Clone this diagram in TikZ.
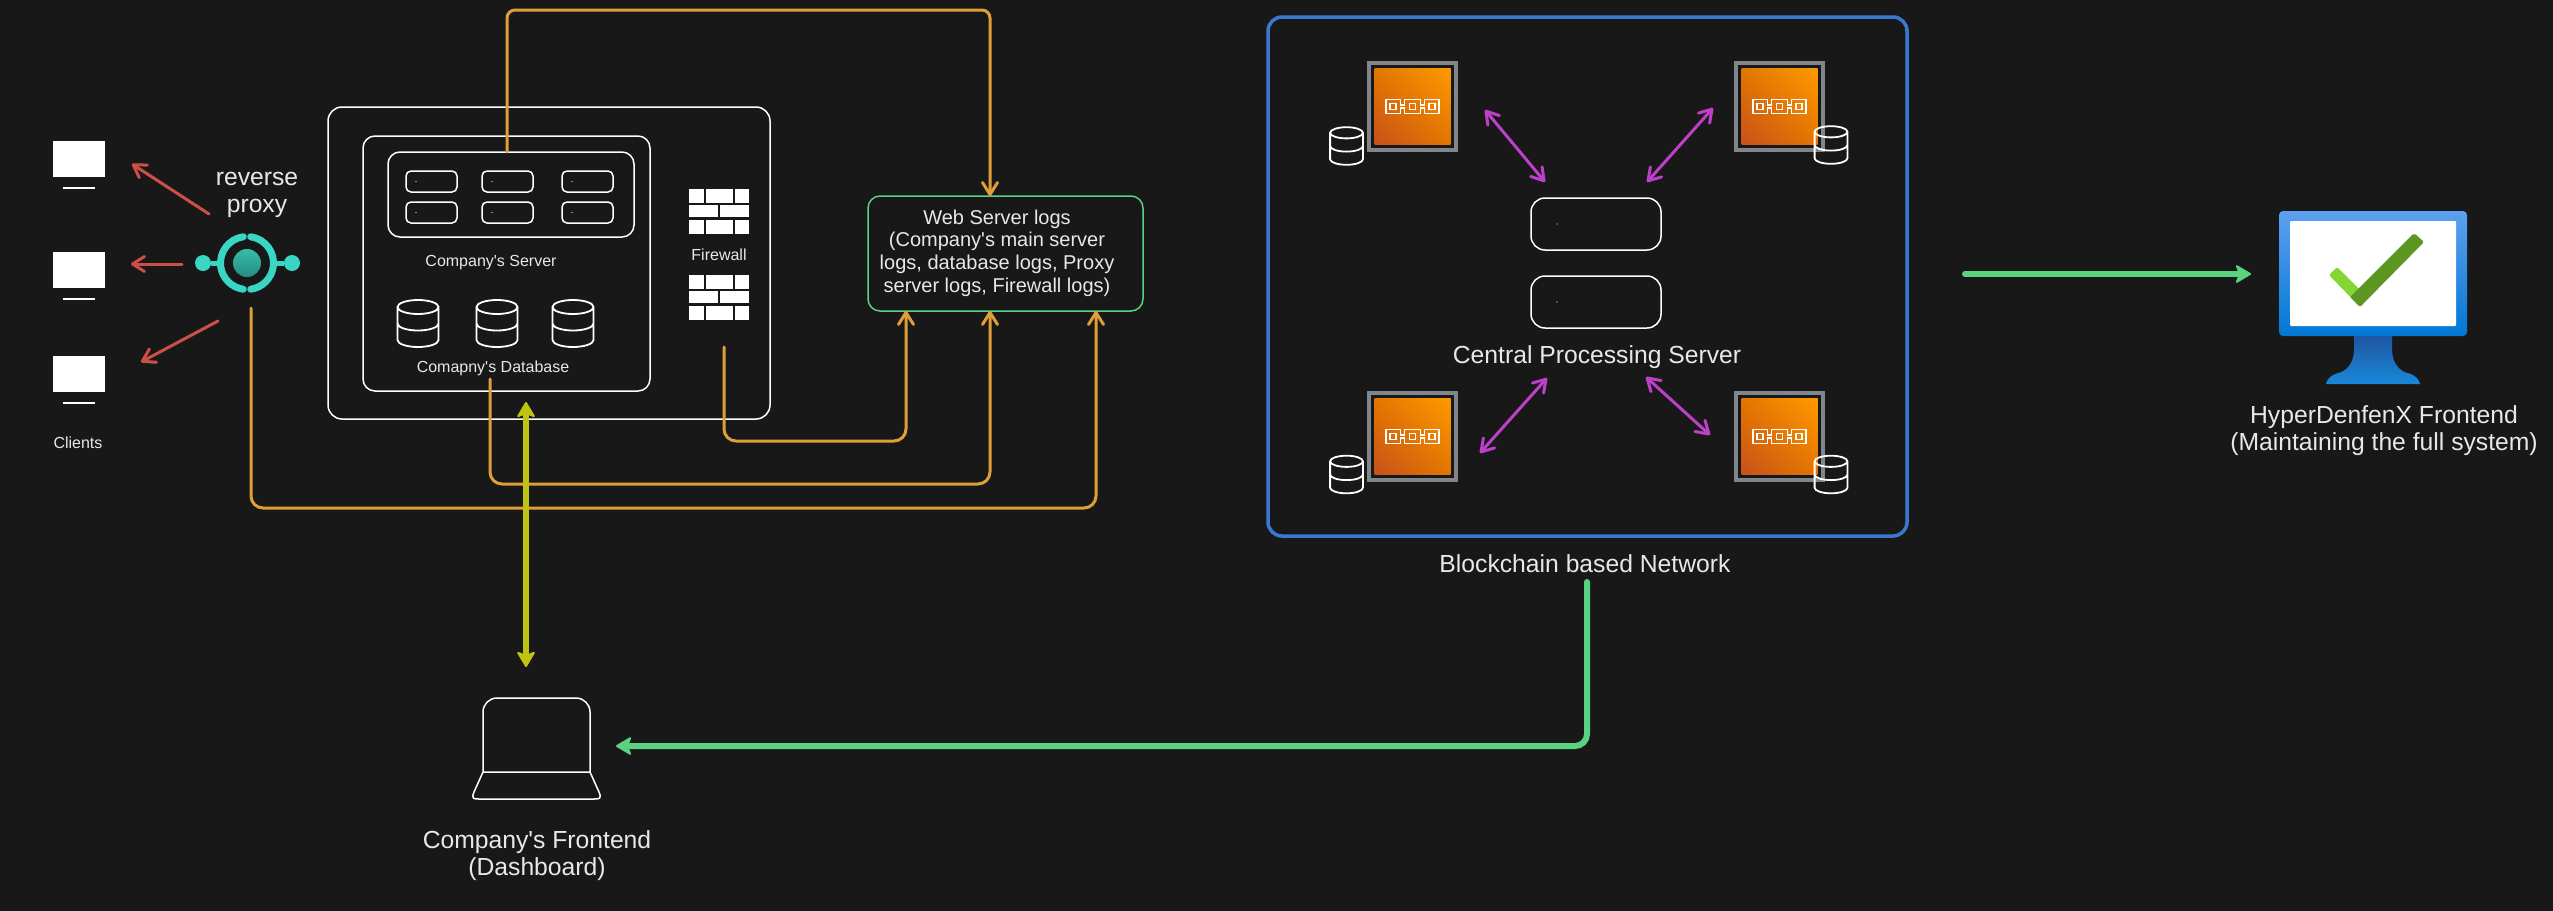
\documentclass[tikz,border=0pt]{standalone}
\usepackage{fontspec}
\setmainfont{Liberation Sans}[Ligatures=TeXOff]
\usetikzlibrary{arrows.meta,shadings}
\definecolor{bgdark}{HTML}{181818}
\definecolor{labelgray}{HTML}{E8E8E8}
\definecolor{redline}{HTML}{CC5048}
\definecolor{orangeline}{HTML}{E09E38}
\definecolor{greenline}{HTML}{5BD27F}
\definecolor{yellowline}{HTML}{BFC413}
\definecolor{purpleline}{HTML}{BE3FC8}
\definecolor{blueframe}{HTML}{3D78D0}
\definecolor{tealicon}{HTML}{3AD6C4}
\definecolor{tealtop}{HTML}{36BCAA}
\definecolor{tealbottom}{HTML}{258C80}
\definecolor{greyframe}{HTML}{7F878D}
\definecolor{chainlow}{HTML}{C7511B}
\definecolor{chainmid}{HTML}{E37600}
\definecolor{chainhigh}{HTML}{FF9900}
\definecolor{screentop}{HTML}{5EA0EF}
\definecolor{screenlow}{HTML}{0078D4}
\definecolor{standtop}{HTML}{1F56A3}
\definecolor{standlow}{HTML}{1988D9}
\definecolor{checklight}{HTML}{86D633}
\definecolor{checkdark}{HTML}{5E9624}
\tikzset{
  every node/.style={text=labelgray,align=center,inner sep=0},
  smalltext/.style={font=\fontsize{16}{19}\selectfont},
  midtext/.style={font=\fontsize{20}{22.7}\selectfont},
  bigtext/.style={font=\fontsize{24.7}{27}\selectfont},
  sketchbox/.style={draw=white,line width=1.5pt,rounded corners=#1},
  sketchbox/.default=12pt,
  barbline/.style={line width=3pt,line cap=round,line join=round,>={Straight Barb[length=12pt,width=15pt,round]}},
  thickline/.style={line width=6pt,line cap=round,>={Stealth[round,length=17pt,width=20pt,inset=4pt,line width=2pt]}},
  dbstack/.pic={
    \draw[white,line width=1.8pt] (0,-16.5) ellipse [x radius=20.5pt,y radius=7pt]
      (-20.5,-16.5) -- (-20.5,16.5) arc[start angle=180,end angle=360,x radius=20.5pt,y radius=7pt] -- (20.5,-16.5)
      (-20.5,0) arc[start angle=180,end angle=360,x radius=20.5pt,y radius=7pt];
  },
  firewallicon/.pic={
    \foreach \ya/\yb in {0/14,31/45}
      \foreach \xa/\xb in {0/15,17/44,46/60}
        \fill[white] (\xa,\ya) rectangle (\xb,\yb);
    \foreach \xa/\xb in {0/29,31/60}
      \fill[white] (\xa,16) rectangle (\xb,28);
  },
  chainlink/.pic={
    \shade[shading=bilinear interpolation,lower left=chainlow,upper right=chainhigh,upper left=chainmid,lower right=chainmid] (-38,-38) rectangle (38,38);
    \draw[greyframe,line width=4pt] (-43.5,-43.5) rectangle (43.5,43.5);
    \draw[white,line width=1.4pt] (-26.5,-7) -- (-12,-7) -- (-12,-1.5) -- (-8,-1.5) -- (-8,-7) -- (8,-7) -- (8,-1.5) -- (12,-1.5) -- (12,-7) -- (26.5,-7)
      -- (26.5,7) -- (12,7) -- (12,1.5) -- (8,1.5) -- (8,7) -- (-8,7) -- (-8,1.5) -- (-12,1.5) -- (-12,7) -- (-26.5,7) -- cycle;
    \foreach \xa in {-19.5,0,19.5}
      \draw[white,line width=1.2pt] ({\xa-3},-3) rectangle ({\xa+3},3);
  },
  clientscreen/.pic={
    \fill[white] (-26,-18) rectangle (26,18);
    \draw[white,line width=1.2pt] (-16,29) -- (16,29);
  }
}

\begin{document}
\begin{tikzpicture}[x=1pt,y=-1pt]
        \useasboundingbox (0,0) rectangle (2553,910);
        \fill[bgdark] (-3,-3) rectangle (2556,913);

        \foreach \n/\cy in {a/159,b/270,c/374}
          \pic (client\n) at (79,\cy) {clientscreen};
        \node[smalltext] (clients) at (78,443) {Clients};
        \node[bigtext] (proxylabel) at (257,195) {reverse\\proxy};

        \draw[tealicon,line width=7pt,line cap=round] (247,263) ++(98:26.5pt) arc[start angle=98,end angle=262,radius=26.5pt];
        \draw[tealicon,line width=7pt,line cap=round] (247,263) ++(82:26.5pt) arc[start angle=82,end angle=-82,radius=26.5pt];
        \node[circle,top color=tealtop,bottom color=tealbottom,minimum size=28pt] (proxy) at (247,263) {};
        \node[circle,fill=tealicon,minimum size=16pt] (proxyl) at (203,263) {};
        \node[circle,fill=tealicon,minimum size=16pt] (proxyr) at (292,263) {};
        \draw[tealicon,line width=5pt] (proxyl) -- (221,263) (proxyr) -- (273,263);

        \coordinate (pxa) at (209,214);
        \coordinate (pxb) at (182,264);
        \coordinate (pxc) at (218,321);
        \coordinate (cla) at (132,164);
        \coordinate (clb) at (131,264);
        \coordinate (clc) at (141,362);
        \draw[barbline,redline,->] (pxa) -- (cla);
        \draw[barbline,redline,->] (pxb) -- (clb);
        \draw[barbline,redline,->] (pxc) -- (clc);

        \node[sketchbox=14pt,minimum width=442pt,minimum height=312pt] (outerbox) at (549,263) {};
        \node[sketchbox=12pt,minimum width=287pt,minimum height=255pt] (innerbox) at (506.5,263.5) {};
        \node[sketchbox=12pt,minimum width=246pt,minimum height=85pt] (srvbox) at (511,194.5) {};
        \foreach \cx in {431.5,507.5,587.5}
          \foreach \cy in {181.5,212.5} {
            \node[sketchbox=5pt,minimum width=51pt,minimum height=21pt] (srv\cx\cy) at (\cx,\cy) {};
            \fill[white] ({\cx-15.5},\cy) circle (0.7pt);
          }
        \node[smalltext] (srvlabel) at (491,263) {Company's Server};
        \foreach \n/\cx in {a/418,b/497,c/573}
          \pic (db\n) at (\cx,323.5) {dbstack};
        \node[smalltext] (dblabel) at (493,368) {Comapny's Database};
        \pic (fwa) at (689,189) {firewallicon};
        \pic (fwb) at (689,275) {firewallicon};
        \node[smalltext] (fwlabel) at (719,255) {Firewall};

        \node[draw=greenline,line width=1.5pt,rounded corners=12pt,minimum width=275pt,minimum height=115pt] (logs) at (1005.5,253.5) {};
        \node[midtext] (logstext) at (997,253) {Web Server logs\\(Company's main server\\logs, database logs, Proxy\\server logs, Firewall logs)};

        \coordinate (srvout) at (507,152);
        \coordinate (topbend) at (990,10);
        \coordinate (logstop) at (990,196);
        \draw[barbline,orangeline,->,rounded corners=8pt] (srvout) |- (topbend) -- (logstop);
        \coordinate (fwout) at (724,347);
        \coordinate (fwbend) at (906,441);
        \coordinate (logsa) at (906,311);
        \draw[barbline,orangeline,->,rounded corners=12pt] (fwout) |- (fwbend) -- (logsa);
        \coordinate (dbout) at (490,379);
        \coordinate (dbbend) at (990,484);
        \coordinate (logsb) at (990,311);
        \draw[barbline,orangeline,->,rounded corners=12pt] (dbout) |- (dbbend) -- (logsb);
        \coordinate (pxout) at (251,308);
        \coordinate (pxbend) at (1096,508);
        \coordinate (logsc) at (1096,311);
        \draw[barbline,orangeline,->,rounded corners=12pt] (pxout) |- (pxbend) -- (logsc);

        \coordinate (dashtop) at (526,402);
        \coordinate (dashbottom) at (526,667);
        \draw[thickline,yellowline,<->] (dashtop) -- (dashbottom);

        \draw[white,line width=1.5pt] (483,772) -- (483,712) arc[start angle=180,end angle=90,radius=14pt] -- (576,698) arc[start angle=90,end angle=0,radius=14pt] -- (590,772) -- cycle;
        \draw[white,line width=1.5pt] (483,772) -- (474,792) .. controls (471,799) and (474,799) .. (479,799) -- (594,799) .. controls (599,799) and (602,799) .. (599,792) -- (590,772);
        \node[bigtext] (dashlabel) at (537,855.5) {Company's Frontend\\(Dashboard)};

        \node[draw=blueframe,line width=3.5pt,rounded corners=14pt,minimum width=639pt,minimum height=519pt] (chainbox) at (1587.5,276.5) {};
        \node[sketchbox=14pt,minimum width=130pt,minimum height=52pt] (cpua) at (1596,224) {};
        \node[sketchbox=14pt,minimum width=130pt,minimum height=52pt] (cpub) at (1596,302) {};
        \fill[white] (1557,224) circle (0.7pt) (1557,302) circle (0.7pt);
        \node[bigtext] (cpulabel) at (1597,357) {Central Processing Server};
        \node[bigtext] (chainlabel) at (1585,564) {Blockchain based Network};

        \foreach \n/\cx/\cy in {tl/1412.5/106.5,tr/1779.5/106.5,bl/1412.5/436.5,br/1779.5/436.5}
          \pic (node\n) at (\cx,\cy) {chainlink};
        \foreach \n/\cx/\cy in {tl/1346.5/146,tr/1831/145,bl/1346.5/474.5,br/1831/474.5}
          \pic[scale=.8] (store\n) at (\cx,\cy) {dbstack};

        \coordinate (nodetl) at (1485,110);
        \coordinate (cputl) at (1545,182);
        \coordinate (nodetr) at (1713,108);
        \coordinate (cputr) at (1647,182);
        \coordinate (nodebl) at (1480,453);
        \coordinate (cpubl) at (1547,378);
        \coordinate (nodebr) at (1710,435);
        \coordinate (cpubr) at (1646,377);
        \draw[barbline,purpleline,<->] (nodetl) -- (cputl);
        \draw[barbline,purpleline,<->] (nodetr) -- (cputr);
        \draw[barbline,purpleline,<->] (nodebl) -- (cpubl);
        \draw[barbline,purpleline,<->] (nodebr) -- (cpubr);

        \coordinate (chainout) at (1587,582);
        \coordinate (chainbend) at (1587,746);
        \coordinate (laptopin) at (616,746);
        \draw[thickline,greenline,->,rounded corners=12pt] (chainout) -- (chainbend) -- (laptopin);
        \coordinate (chainright) at (1965,274);
        \coordinate (monitorin) at (2251,274);
        \draw[thickline,greenline,->] (chainright) -- (monitorin);

        \shade[top color=standtop,bottom color=standlow] (2354,336) -- (2354,350) .. controls (2354,364) and (2345,372) .. (2338,373) .. controls (2331,375) and (2327,379) .. (2326,384) -- (2420,384) .. controls (2419,379) and (2415,375) .. (2408,373) .. controls (2401,372) and (2392,364) .. (2392,350) -- (2392,336) -- cycle;
        \node[rounded corners=4pt,top color=screentop,bottom color=screenlow,minimum width=188pt,minimum height=125pt] (monitor) at (2373,273.5) {};
        \node[fill=white,rounded corners=1pt,minimum width=166pt,minimum height=105pt] (monitorscreen) at (2373,273.5) {};
        \fill[checklight,rounded corners=2pt] (2337,267) -- (2329,275) -- (2360,307) -- (2368,298) -- cycle;
        \fill[checkdark,rounded corners=2pt] (2414,233) -- (2424,242) -- (2360,307) -- (2350,297) -- cycle;
        \node[bigtext] (monitorlabel) at (2384,430.5) {HyperDenfenX Frontend\\(Maintaining the full system)};
      \end{tikzpicture}
\end{document}
